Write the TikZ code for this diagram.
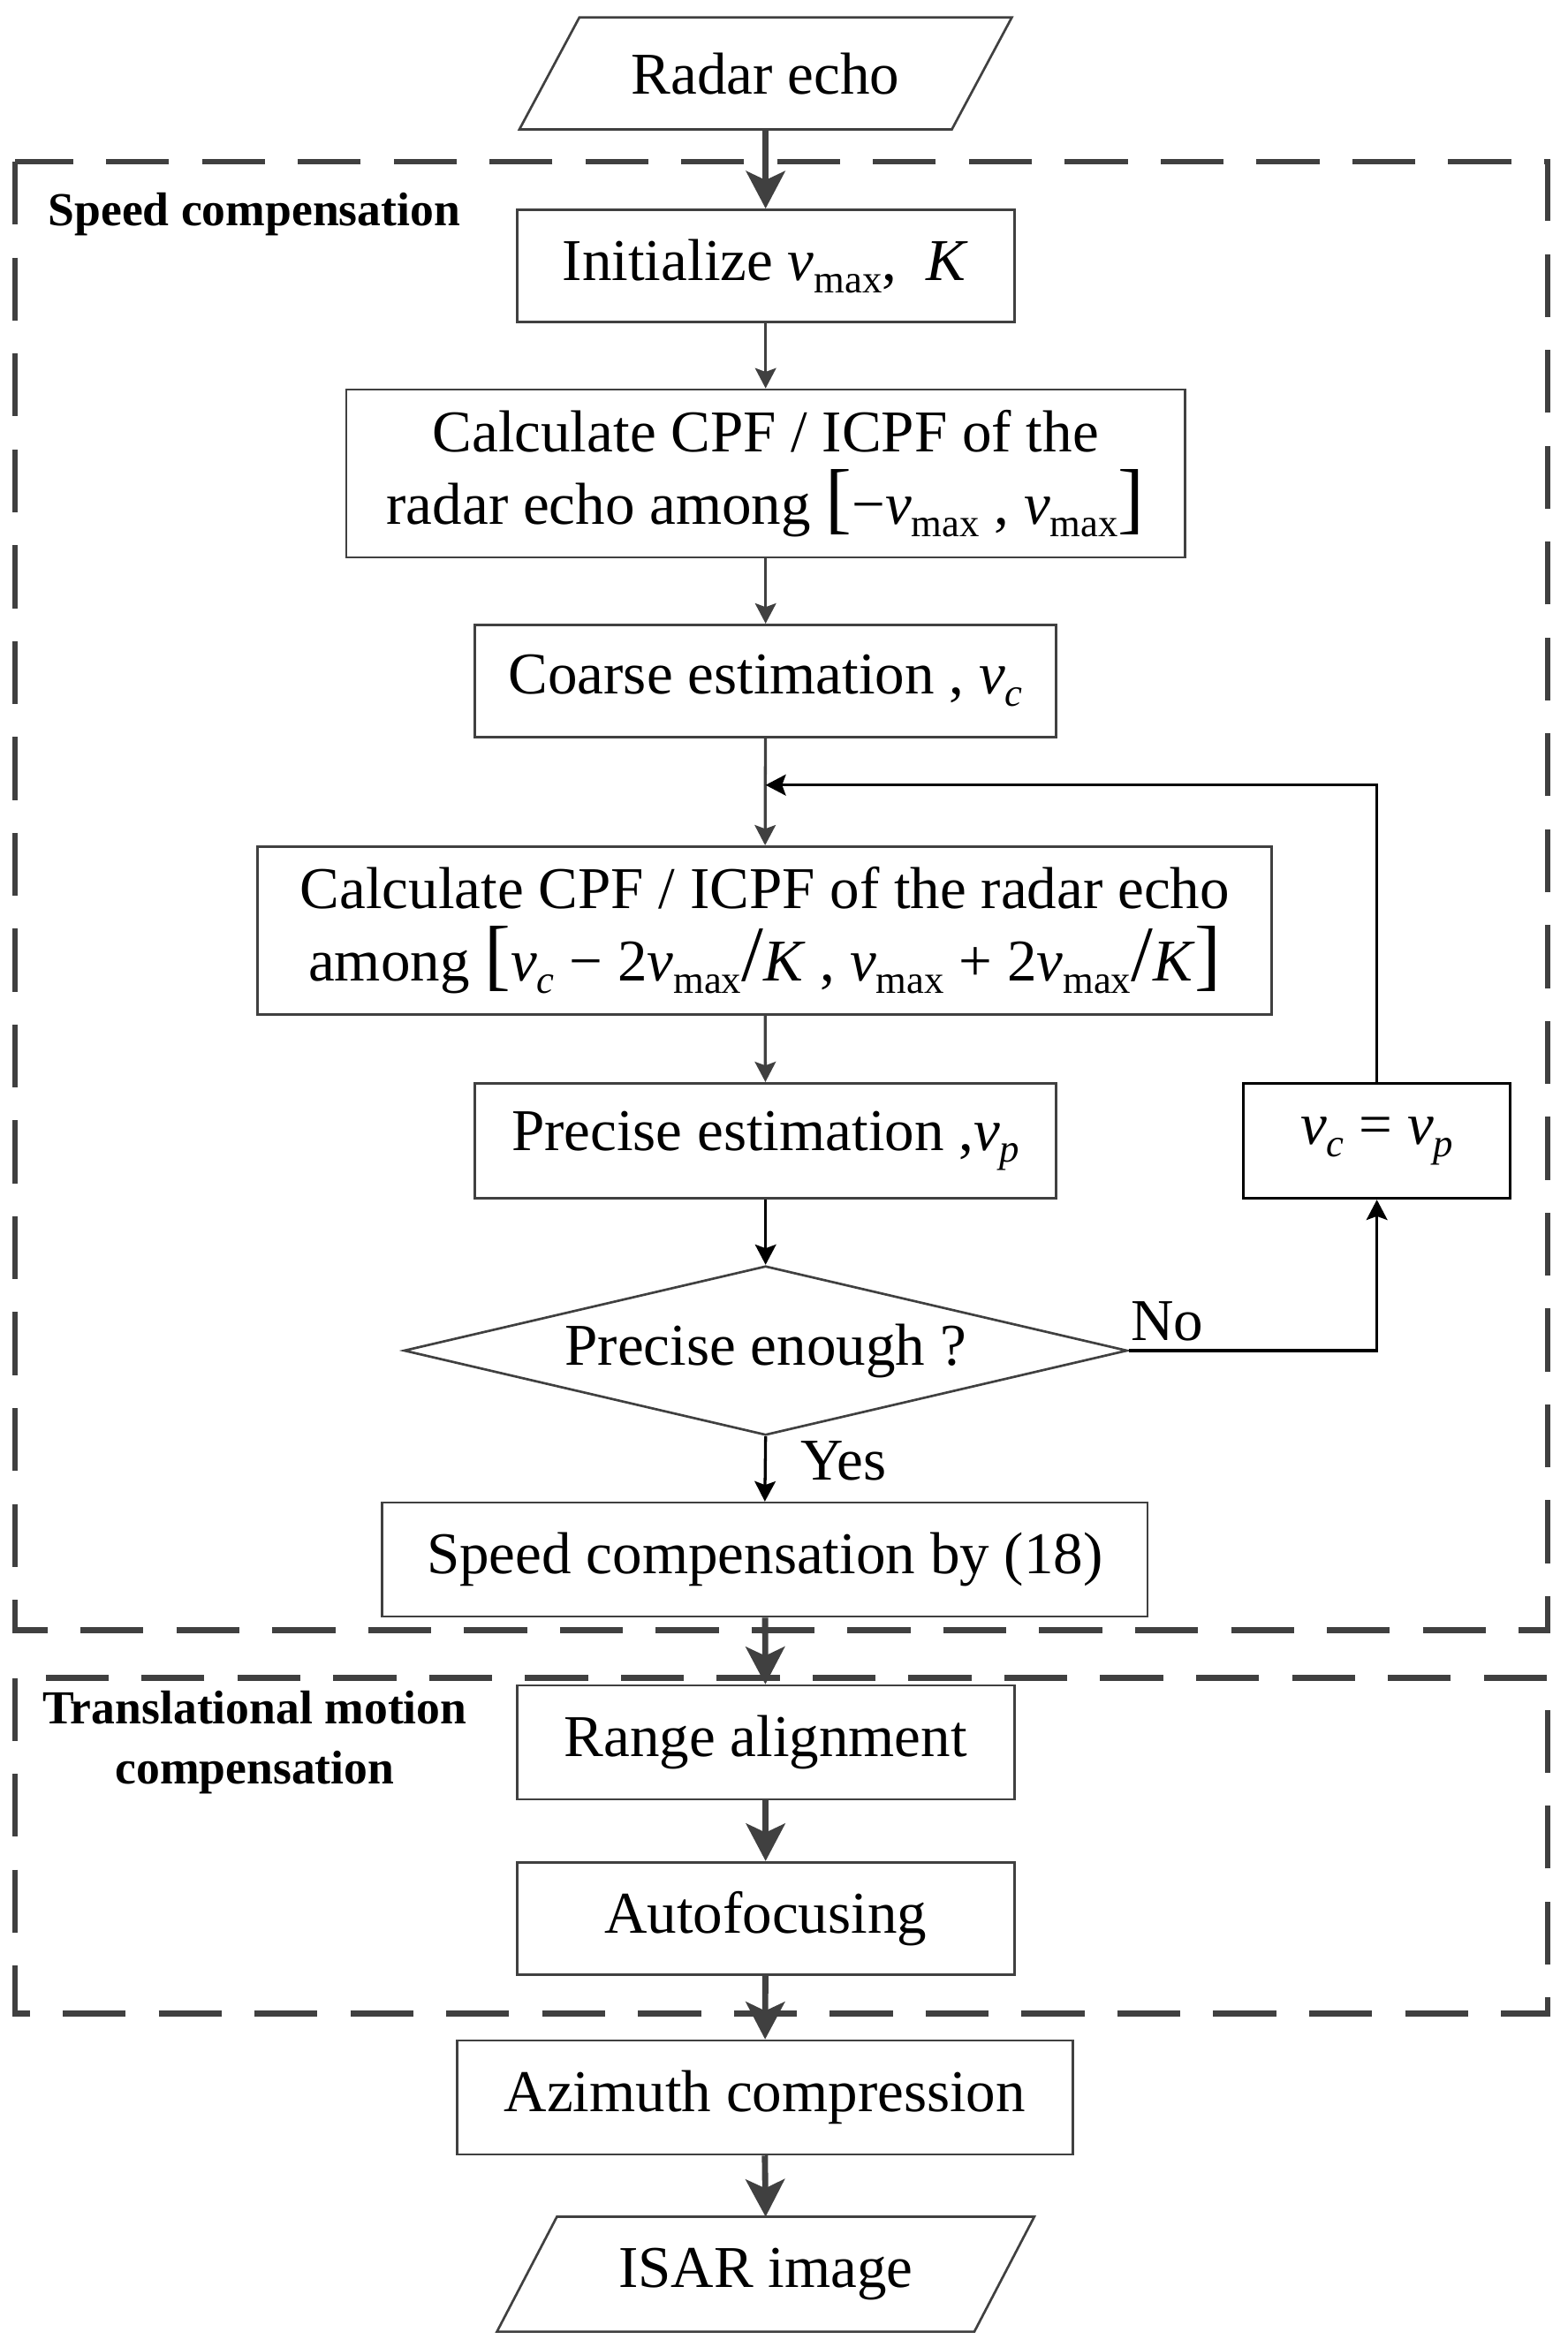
\documentclass[tikz,border=0pt]{standalone}
\usepackage{fontspec}
\setmainfont{Liberation Serif}
\usepackage{tikz}
\usetikzlibrary{arrows.meta,shapes.geometric}
\definecolor{linegray}{RGB}{64,64,64}
\newcommand{\lowsub}[1]{\raisebox{-0.45ex}{\fontsize{15}{15}\selectfont #1}}
\newcommand{\vmax}{\textit{v}\lowsub{max}}
\newcommand{\vsub}[1]{\textit{v}\lowsub{\textit{#1}}}
\newcommand{\bigbr}[1]{{\fontsize{30}{30}\selectfont #1}}
\tikzset{
    proc/.style={draw=linegray, line width=0.9pt, inner sep=0pt, align=center,
        font=\fontsize{22.5}{27.5}\selectfont},
    iobox/.style={inner sep=0pt, font=\fontsize{22.5}{27.5}\selectfont},
    thinflow/.style={draw=linegray, line width=1.1pt,
        -{Stealth[length=0.27cm,width=0.28cm,inset=0.05cm]}},
    loopflow/.style={draw=black, line width=1.1pt,
        -{Stealth[length=0.27cm,width=0.28cm,inset=0.05cm]}},
    thickflow/.style={draw=linegray, line width=2.3pt,
        -{Stealth[length=0.5cm,width=0.52cm,inset=0.12cm]}},
    group/.style={draw=linegray, line width=2.2pt, dash pattern=on 0.84cm off 0.44cm},
    grouplabel/.style={font=\fontsize{18}{22.7}\selectfont\bfseries, align=center},
}

\begin{document}
\begin{tikzpicture}[x=0.02cm, y=-0.02cm]
\useasboundingbox (0,0) rectangle (1046,1566.6);

% dashed groups
\draw[group] (10,108) rectangle (1033,1088);
\draw[group] (10,1120) rectangle (1033,1344);
\node[grouplabel, anchor=west] (speedlbl) at (26,143) {Speed compensation};
\node[grouplabel] (translbl) at (170,1163) {Translational motion\\compensation};

% input
\node[iobox, minimum width=5.76cm, minimum height=1.48cm] (echo) at (511,49) {Radar echo};
\draw[linegray, line width=0.9pt] ([xshift=-0.4cm]echo.south west) -- ([xshift=0.4cm]echo.north west)
    -- ([xshift=0.4cm]echo.north east) -- ([xshift=-0.4cm]echo.south east) -- cycle;

% speed compensation
\node[proc, minimum width=6.64cm, minimum height=1.5cm] (init) at (511,177.5) {Initialize \vmax,\ \ \textit{K}};
\node[proc, minimum width=11.2cm, minimum height=2.24cm] (calcA) at (511,316)
    {Calculate CPF / ICPF of the\\radar echo among \bigbr{[}−\vmax\ , \vmax\bigbr{]}};
\node[proc, minimum width=7.76cm, minimum height=1.5cm] (coarse) at (511,454.5) {Coarse estimation , \vsub{c}};
\node[proc, minimum width=13.54cm, minimum height=2.24cm] (calcB) at (510.5,621)
    {Calculate CPF / ICPF of the radar echo\\among \bigbr{[}\vsub{c} − 2\vmax\bigbr{/}\textit{K} , \vmax\ + 2\vmax\bigbr{/}\textit{K}\bigbr{]}};
\node[proc, minimum width=7.76cm, minimum height=1.54cm] (precise) at (511,761.5) {Precise estimation ,\vsub{p}};
\node[proc, draw=black, minimum width=3.56cm, minimum height=1.54cm] (update) at (919,761.5) {\vsub{c} = \vsub{p}};
\node[proc, shape=diamond, aspect=4.27, minimum width=9.66cm, minimum height=2.26cm] (check) at (511,901.5) {Precise enough ?};
\node[proc, minimum width=10.22cm, minimum height=1.52cm] (speed) at (510.5,1041) {Speed compensation by (18)};
\coordinate (join) at (511,524);
\node[iobox] (nolbl) at (779,882) {No};
\node[iobox] (yeslbl) at (563,975) {Yes};

% translational motion compensation
\node[proc, minimum width=6.64cm, minimum height=1.52cm] (range) at (511,1163) {Range alignment};
\node[proc, minimum width=6.64cm, minimum height=1.5cm] (autofoc) at (511,1280.5) {Autofocusing};
\node[proc, minimum width=8.22cm, minimum height=1.52cm] (azim) at (510.5,1400) {Azimuth compression};

% output
\node[iobox, minimum width=6.36cm, minimum height=1.52cm] (isar) at (511,1518) {ISAR image};
\draw[linegray, line width=0.9pt] ([xshift=-0.4cm]isar.south west) -- ([xshift=0.4cm]isar.north west)
    -- ([xshift=0.4cm]isar.north east) -- ([xshift=-0.4cm]isar.south east) -- cycle;

% connectors
\draw[thickflow] (echo.south) -- (init.north);
\draw[thinflow] (init) -- (calcA);
\draw[thinflow] (calcA) -- (coarse);
\draw[thinflow] (coarse) -- (calcB);
\draw[loopflow] (update.north) |- (join);
\draw[thinflow] (calcB) -- (precise);
\draw[loopflow] (precise) -- (check);
\draw[loopflow] (check.east) -| (update.south);
\draw[loopflow] (check.south) -- (speed.north);
\draw[thickflow] (speed) -- (range);
\draw[thickflow] (range) -- (autofoc);
\draw[thickflow] (autofoc) -- (azim);
\draw[thickflow] (azim.south) -- (isar.north);
\end{tikzpicture}
\end{document}
